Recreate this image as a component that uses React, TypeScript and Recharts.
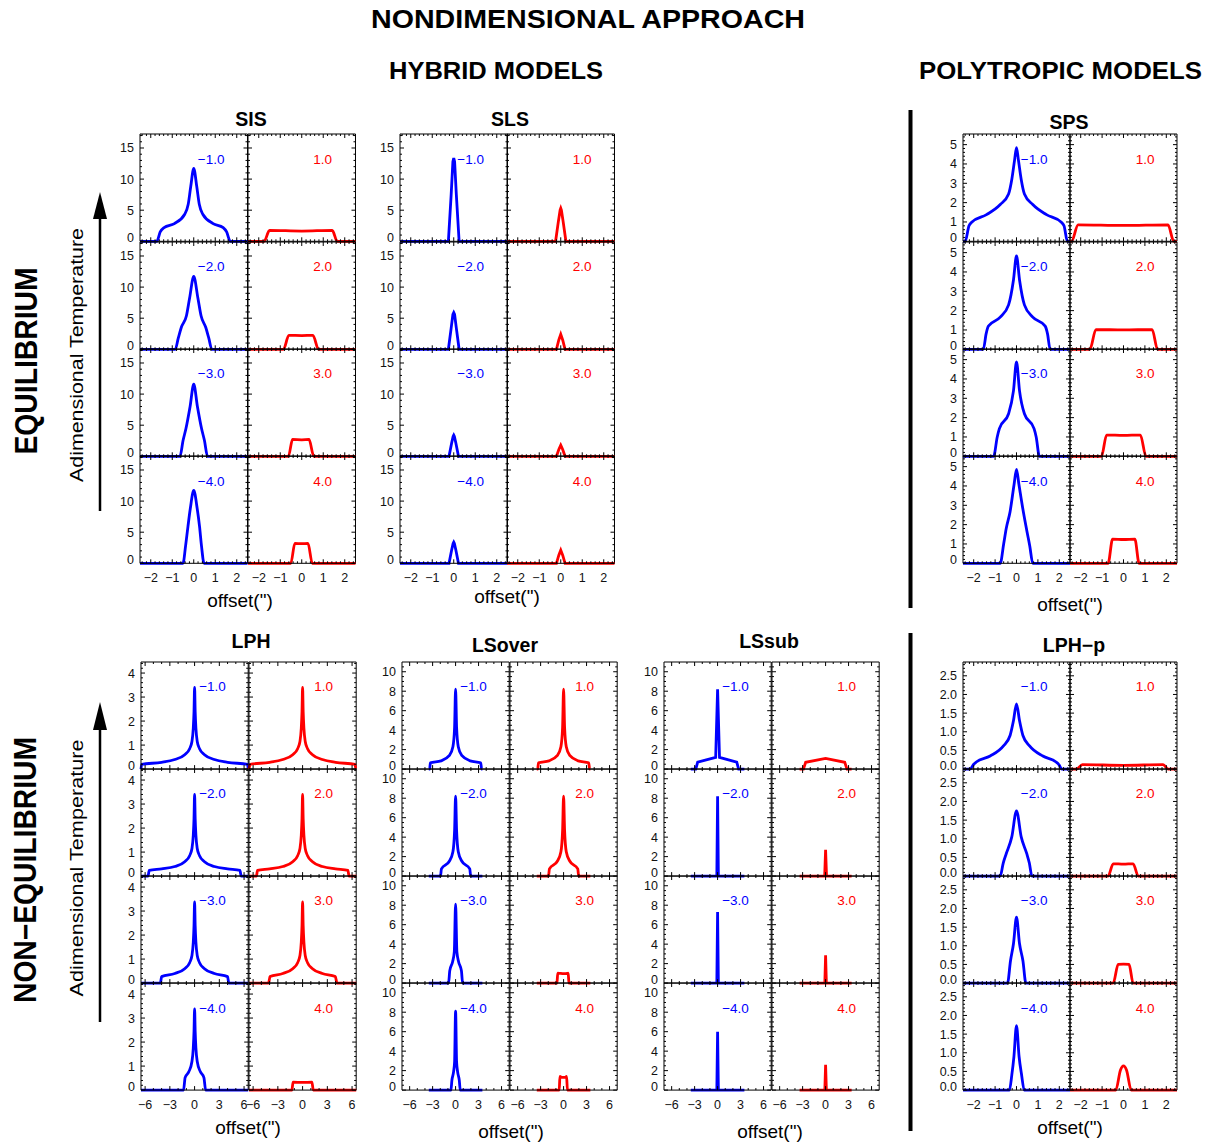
import React from 'react';
import { LineChart, Line, XAxis, YAxis, ReferenceLine } from 'recharts';

type Pt = [number, number];

// ---------------- tick labels / axes ----------------
const X25_MAJOR = [-2, -1, 0, 1, 2];
const X25_MINOR = [-2.4, -2.2, -1.8, -1.6, -1.4, -1.2, -0.8, -0.6, -0.4, -0.2, 0.2, 0.4, 0.6, 0.8, 1.2, 1.4, 1.6, 1.8, 2.2, 2.4];
const X6_MAJOR = [-6, -3, 0, 3, 6];
const X6_MINOR = [-5, -4, -2, -1, 1, 2, 4, 5];

const Y_SIS_MAJOR = [0, 5, 10, 15];
const Y_SIS_MINOR = [1, 2, 3, 4, 6, 7, 8, 9, 11, 12, 13, 14, 16, 17];
const Y_SPS_MAJOR = [0, 1, 2, 3, 4, 5];
const Y_SPS_MINOR = [0.2, 0.4, 0.6, 0.8, 1.2, 1.4, 1.6, 1.8, 2.2, 2.4, 2.6, 2.8, 3.2, 3.4, 3.6, 3.8, 4.2, 4.4, 4.6, 4.8, 5.2, 5.4];
const Y_LPH_MAJOR = [0, 1, 2, 3, 4];
const Y_LPH_MINOR = [0.2, 0.4, 0.6, 0.8, 1.2, 1.4, 1.6, 1.8, 2.2, 2.4, 2.6, 2.8, 3.2, 3.4, 3.6, 3.8, 4.2, 4.4];
const Y_LS_MAJOR = [0, 2, 4, 6, 8, 10];
const Y_LS_MINOR = [0.5, 1, 1.5, 2.5, 3, 3.5, 4.5, 5, 5.5, 6.5, 7, 7.5, 8.5, 9, 9.5, 10.5];
const Y_LPHP_MAJOR = [0, 0.5, 1, 1.5, 2, 2.5];
const Y_LPHP_MINOR = [0.1, 0.2, 0.3, 0.4, 0.6, 0.7, 0.8, 0.9, 1.1, 1.2, 1.3, 1.4, 1.6, 1.7, 1.8, 1.9, 2.1, 2.2, 2.3, 2.4, 2.6, 2.7, 2.8];

const BLUE_LABELS = ['\u22121.0', '\u22122.0', '\u22123.0', '\u22124.0'];
const RED_LABELS = ['1.0', '2.0', '3.0', '4.0'];

// ---------------- data (offset, temperature) ----------------
const sisBlue: Pt[][] = [
  [[-2.5, 0], [-1.72, 0], [-1.56, 1.5], [-1.38, 2.2], [-0.9, 2.85], [-0.42, 4.35], [-0.26, 5.9], [-0.14, 8.8], [0, 11.7], [0.14, 8.8], [0.26, 5.9], [0.42, 4.35], [0.9, 2.85], [1.37, 2.2], [1.53, 1.5], [1.7, 0], [2.5, 0]],
  [[-2.5, 0], [-0.86, 0], [-0.72, 1.8], [-0.58, 3.5], [-0.34, 5.4], [-0.19, 8.3], [0, 11.7], [0.19, 8.3], [0.34, 5.4], [0.56, 3.5], [0.7, 1.8], [0.84, 0], [2.5, 0]],
  [[-2.5, 0], [-0.64, 0], [-0.5, 2.5], [-0.36, 4.5], [-0.17, 8], [0, 11.6], [0.17, 8], [0.36, 4.5], [0.5, 2.5], [0.64, 0], [2.5, 0]],
  [[-2.5, 0], [-0.5, 0], [-0.38, 2.8], [-0.27, 5.9], [-0.16, 8.8], [0, 11.7], [0.16, 8.8], [0.27, 5.9], [0.36, 2.8], [0.48, 0], [2.5, 0]],
];
const sisRed: Pt[][] = [
  [[-2.5, 0], [-1.75, 0], [-1.5, 1.75], [0, 1.65], [1.42, 1.75], [1.65, 0], [2.5, 0]],
  [[-2.5, 0], [-0.85, 0], [-0.6, 2.25], [0, 2.2], [0.52, 2.25], [0.78, 0], [2.5, 0]],
  [[-2.5, 0], [-0.62, 0], [-0.43, 2.7], [0, 2.65], [0.34, 2.7], [0.56, 0], [2.5, 0]],
  [[-2.5, 0], [-0.51, 0], [-0.32, 3.2], [0, 3.15], [0.29, 3.2], [0.49, 0], [2.5, 0]],
];
const slsBlue: Pt[][] = [
  [[-2.5, 0], [-0.25, 0], [-0.12, 7.5], [-0.04, 12.8], [0, 13.4], [0.04, 12.8], [0.12, 7.5], [0.25, 0], [2.5, 0]],
  [[-2.5, 0], [-0.25, 0], [-0.12, 3.4], [-0.04, 5.6], [0, 5.9], [0.04, 5.6], [0.12, 3.4], [0.25, 0], [2.5, 0]],
  [[-2.5, 0], [-0.22, 0], [-0.1, 2.1], [-0.03, 3.2], [0, 3.4], [0.03, 3.2], [0.1, 2.1], [0.22, 0], [2.5, 0]],
  [[-2.5, 0], [-0.22, 0], [-0.1, 2.1], [-0.03, 3.2], [0, 3.4], [0.03, 3.2], [0.1, 2.1], [0.22, 0], [2.5, 0]],
];
const slsRed: Pt[][] = [
  [[-2.5, 0], [-0.24, 0], [-0.11, 3.2], [-0.03, 5.0], [0, 5.3], [0.03, 5.0], [0.11, 3.2], [0.24, 0], [2.5, 0]],
  [[-2.5, 0], [-0.2, 0], [-0.09, 1.5], [0, 2.4], [0.09, 1.5], [0.2, 0], [2.5, 0]],
  [[-2.5, 0], [-0.2, 0], [-0.09, 1.1], [0, 1.8], [0.09, 1.1], [0.2, 0], [2.5, 0]],
  [[-2.5, 0], [-0.2, 0], [-0.09, 1.3], [0, 2.1], [0.09, 1.3], [0.2, 0], [2.5, 0]],
];
const spsBlue: Pt[][] = [
  [[-2.5, 0], [-2.4, 0], [-2.22, 0.8], [-2.08, 1.0], [-1.4, 1.38], [-0.76, 1.9], [-0.37, 2.45], [-0.22, 3.2], [-0.09, 4.2], [0, 4.85], [0.09, 4.2], [0.22, 3.2], [0.37, 2.45], [0.76, 1.9], [1.4, 1.38], [2.08, 1.0], [2.22, 0.8], [2.38, 0], [2.5, 0]],
  [[-2.5, 0], [-1.55, 0], [-1.42, 0.8], [-1.31, 1.2], [-0.76, 1.66], [-0.37, 2.3], [-0.14, 3.6], [0, 4.83], [0.14, 3.6], [0.37, 2.3], [0.76, 1.66], [1.34, 1.2], [1.45, 0.8], [1.57, 0], [2.5, 0]],
  [[-2.5, 0], [-1.07, 0], [-0.9, 1.0], [-0.8, 1.43], [-0.37, 2.2], [-0.14, 3.4], [0, 4.88], [0.14, 3.4], [0.37, 2.2], [0.82, 1.43], [0.92, 1.0], [1.07, 0], [2.5, 0]],
  [[-2.5, 0], [-0.76, 0], [-0.6, 1.0], [-0.48, 1.8], [-0.3, 2.67], [-0.11, 4.1], [0, 4.86], [0.11, 4.1], [0.33, 2.6], [0.48, 1.7], [0.62, 0.9], [0.76, 0], [2.5, 0]],
];
const spsRed: Pt[][] = [
  [[-2.5, 0], [-2.43, 0], [-2.12, 0.85], [0, 0.82], [2.08, 0.85], [2.35, 0], [2.5, 0]],
  [[-2.5, 0], [-1.57, 0], [-1.29, 1.02], [0, 1.0], [1.34, 1.02], [1.59, 0], [2.5, 0]],
  [[-2.5, 0], [-1.03, 0], [-0.79, 1.1], [0, 1.08], [0.79, 1.1], [1.05, 0], [2.5, 0]],
  [[-2.5, 0], [-0.72, 0], [-0.51, 1.25], [0, 1.23], [0.53, 1.25], [0.73, 0], [2.5, 0]],
];
const lphBlue: Pt[][] = [
  [[-6.5, 0], [-6.42, 0.2], [-4, 0.28], [-2.4, 0.4], [-1.2, 0.6], [-0.6, 0.85], [-0.32, 1.15], [-0.16, 1.7], [-0.07, 2.4], [0, 3.4], [0.07, 2.4], [0.16, 1.7], [0.32, 1.15], [0.6, 0.85], [1.2, 0.6], [2.4, 0.4], [4, 0.28], [6.42, 0.2], [6.5, 0]],
  [[-6.5, 0], [-5.65, 0], [-5.5, 0.24], [-4, 0.3], [-2.4, 0.4], [-1.2, 0.6], [-0.6, 0.85], [-0.32, 1.15], [-0.16, 1.7], [-0.07, 2.4], [0, 3.4], [0.07, 2.4], [0.16, 1.7], [0.32, 1.15], [0.6, 0.85], [1.2, 0.6], [2.4, 0.4], [4, 0.3], [5.5, 0.24], [5.65, 0], [6.5, 0]],
  [[-6.5, 0], [-4.15, 0], [-4.0, 0.27], [-2.4, 0.4], [-1.2, 0.6], [-0.6, 0.85], [-0.32, 1.15], [-0.16, 1.7], [-0.07, 2.4], [0, 3.38], [0.07, 2.4], [0.16, 1.7], [0.32, 1.15], [0.6, 0.85], [1.2, 0.6], [2.4, 0.4], [4.0, 0.27], [4.15, 0], [6.5, 0]],
  [[-6.5, 0], [-1.34, 0], [-1.15, 0.52], [-0.69, 0.77], [-0.32, 1.19], [-0.16, 1.75], [-0.07, 2.45], [0, 3.38], [0.07, 2.45], [0.16, 1.75], [0.32, 1.19], [0.69, 0.77], [1.13, 0.52], [1.34, 0], [6.5, 0]],
];
const lphRed: Pt[][] = [
  [[-6.5, 0], [-6.36, 0.2], [-4, 0.28], [-2.4, 0.4], [-1.2, 0.6], [-0.6, 0.85], [-0.32, 1.15], [-0.16, 1.7], [-0.07, 2.4], [0, 3.4], [0.07, 2.4], [0.16, 1.7], [0.32, 1.15], [0.6, 0.85], [1.2, 0.6], [2.4, 0.4], [4, 0.28], [6.36, 0.2], [6.46, 0], [6.5, 0]],
  [[-6.5, 0], [-5.6, 0], [-5.47, 0.24], [-4, 0.3], [-2.4, 0.4], [-1.2, 0.6], [-0.6, 0.85], [-0.32, 1.15], [-0.16, 1.7], [-0.07, 2.4], [0, 3.4], [0.07, 2.4], [0.16, 1.7], [0.32, 1.15], [0.6, 0.85], [1.2, 0.6], [2.4, 0.4], [4, 0.3], [5.5, 0.24], [5.63, 0], [6.5, 0]],
  [[-6.5, 0], [-4.13, 0], [-3.95, 0.27], [-2.4, 0.4], [-1.2, 0.6], [-0.6, 0.85], [-0.32, 1.15], [-0.16, 1.7], [-0.07, 2.4], [0, 3.38], [0.07, 2.4], [0.16, 1.7], [0.32, 1.15], [0.6, 0.85], [1.2, 0.6], [2.4, 0.4], [3.97, 0.27], [4.17, 0], [6.5, 0]],
  [[-6.5, 0], [-1.3, 0], [-1.15, 0.33], [0, 0.32], [1.13, 0.33], [1.3, 0], [6.5, 0]],
];
const lsoverBlue: Pt[][] = [
  [[-3.5, 0], [-3.38, 0], [-3.3, 0.65], [-1.9, 0.85], [-0.8, 1.4], [-0.35, 2.3], [-0.13, 4.3], [0, 8.2], [0.13, 4.3], [0.35, 2.3], [0.8, 1.4], [1.9, 0.85], [3.28, 0.65], [3.4, 0], [3.5, 0]],
  [[-3.5, 0], [-1.97, 0], [-1.85, 0.75], [-0.8, 1.55], [-0.35, 2.5], [-0.13, 4.7], [0, 8.2], [0.13, 4.7], [0.35, 2.5], [0.8, 1.55], [1.85, 0.75], [1.97, 0], [3.5, 0]],
  [[-3.5, 0], [-0.92, 0], [-0.76, 1.28], [-0.39, 2.2], [-0.17, 3.2], [0, 8.1], [0.17, 3.2], [0.39, 2.2], [0.76, 1.28], [0.92, 0], [3.5, 0]],
  [[-3.5, 0], [-0.61, 0], [-0.48, 1.03], [-0.26, 1.9], [-0.13, 2.9], [0, 8.1], [0.13, 2.9], [0.26, 1.9], [0.48, 1.03], [0.61, 0], [3.5, 0]],
];
const lsoverRed: Pt[][] = [
  [[-3.5, 0], [-3.38, 0], [-3.28, 0.65], [-1.9, 0.85], [-0.8, 1.4], [-0.35, 2.3], [-0.13, 4.3], [0, 8.2], [0.13, 4.3], [0.35, 2.3], [0.8, 1.4], [1.9, 0.85], [3.28, 0.65], [3.4, 0], [3.5, 0]],
  [[-3.5, 0], [-1.97, 0], [-1.85, 0.75], [-0.8, 1.55], [-0.35, 2.5], [-0.13, 4.7], [0, 8.2], [0.13, 4.7], [0.35, 2.5], [0.8, 1.55], [1.85, 0.75], [1.97, 0], [3.5, 0]],
  [[-3.5, 0], [-0.87, 0], [-0.76, 1.02], [-0.5, 1.0], [0, 0.97], [0.5, 1.0], [0.6, 1.02], [0.7, 0], [3.5, 0]],
  [[-3.5, 0], [-0.57, 0], [-0.48, 1.4], [-0.25, 1.3], [0.2, 1.3], [0.39, 1.4], [0.5, 0], [3.5, 0]],
];
const lssubBlue: Pt[][] = [
  [[-3.5, 0], [-2.85, 0], [-2.6, 0.72], [-0.25, 1.2], [0, 8.2], [0.25, 1.2], [2.5, 0.72], [2.75, 0], [3.5, 0]],
  [[-3.5, 0], [-0.1, 0], [0, 8.2], [0.1, 0], [3.5, 0]],
  [[-3.5, 0], [-0.1, 0], [0, 7.3], [0.1, 0], [3.5, 0]],
  [[-3.5, 0], [-0.1, 0], [0, 6.0], [0.1, 0], [3.5, 0]],
];
const lssubRed: Pt[][] = [
  [[-3.4, 0], [-2.9, 0], [-2.6, 0.7], [0, 1.1], [2.5, 0.7], [2.8, 0], [3.4, 0]],
  [[-3.4, 0], [-0.12, 0], [0, 2.7], [0.12, 0], [3.4, 0]],
  [[-3.4, 0], [-0.1, 0], [0, 2.85], [0.1, 0], [3.4, 0]],
  [[-3.4, 0], [-0.1, 0], [0, 2.6], [0.1, 0], [3.4, 0]],
];
const lphpBlue: Pt[][] = [
  [[-2.5, 0], [-2.17, 0], [-2.0, 0.13], [-1.88, 0.19], [-1.23, 0.35], [-0.61, 0.62], [-0.3, 0.9], [-0.14, 1.3], [0, 1.75], [0.14, 1.3], [0.3, 0.9], [0.61, 0.62], [1.23, 0.35], [1.85, 0.19], [1.98, 0.12], [2.12, 0], [2.5, 0]],
  [[-2.5, 0], [-0.76, 0], [-0.62, 0.35], [-0.48, 0.6], [-0.22, 1.05], [0, 1.75], [0.22, 1.05], [0.48, 0.6], [0.6, 0.35], [0.72, 0], [2.5, 0]],
  [[-2.5, 0], [-0.42, 0], [-0.28, 0.6], [-0.14, 1.06], [0, 1.77], [0.14, 1.06], [0.3, 0.6], [0.44, 0], [2.5, 0]],
  [[-2.5, 0], [-0.33, 0], [-0.22, 0.4], [-0.12, 0.9], [0, 1.73], [0.12, 0.9], [0.24, 0.4], [0.36, 0], [2.5, 0]],
];
const lphpRed: Pt[][] = [
  [[-2.5, 0], [-2.2, 0], [-1.92, 0.12], [0, 0.1], [1.85, 0.12], [2.09, 0], [2.5, 0]],
  [[-2.5, 0], [-0.72, 0], [-0.48, 0.33], [0, 0.32], [0.45, 0.33], [0.69, 0], [2.5, 0]],
  [[-2.5, 0], [-0.48, 0], [-0.25, 0.5], [0, 0.51], [0.26, 0.5], [0.45, 0], [2.5, 0]],
  [[-2.5, 0], [-0.36, 0], [-0.14, 0.54], [0, 0.65], [0.14, 0.54], [0.36, 0], [2.5, 0]],
];

// ---------------- styling / layout ----------------
const FONT = "'Liberation Sans', Arial, Helvetica, sans-serif";
const BLUE = '#0000ff';
const RED = '#ff0000';
const LW = 40, TH = 6, RW = 6, BH = 30;
const TICK_FS = 12.5;

const fmtX = (v: number) => (v < 0 ? '\u2212' + Math.abs(v) : String(v));
const fmtInt = (v: number) => String(v);
const fmt1 = (v: number) => v.toFixed(1);

const AX25 = { domain: [-2.5, 2.5], major: X25_MAJOR, minor: X25_MINOR };
const AX65 = { domain: [-6.5, 6.5], major: X6_MAJOR, minor: X6_MINOR };
const AX7 = { domain: [-7, 7], major: X6_MAJOR, minor: X6_MINOR };
const AY_SIS = { domain: [0, 17.25], major: Y_SIS_MAJOR, minor: Y_SIS_MINOR, fmt: fmtInt };
const AY_SPS = { domain: [0, 5.55], major: Y_SPS_MAJOR, minor: Y_SPS_MINOR, fmt: fmtInt };
const AY_LPH = { domain: [0, 4.46], major: Y_LPH_MAJOR, minor: Y_LPH_MINOR, fmt: fmtInt };
const AY_LS = { domain: [0, 11], major: Y_LS_MAJOR, minor: Y_LS_MINOR, fmt: fmtInt };
const AY_LPHP = { domain: [0, 2.87], major: Y_LPHP_MAJOR, minor: Y_LPHP_MINOR, fmt: fmt1 };

const BLOCKS = [
  { title: 'SIS', x0: 140, y0: 134.3, pw: 107.5, ph: 107.3, blue: sisBlue, red: sisRed, ax: AX25, ay: AY_SIS, curve: 'monotone', tx: 251, ty: 125.5, ox: 240, oy: 607 },
  { title: 'SLS', x0: 399.5, y0: 134.3, pw: 107.5, ph: 107.3, blue: slsBlue, red: slsRed, ax: AX25, ay: AY_SIS, curve: 'linear', tx: 510, ty: 125.5, ox: 507, oy: 603 },
  { title: 'SPS', x0: 963, y0: 134.3, pw: 107, ph: 107.3, blue: spsBlue, red: spsRed, ax: AX25, ay: AY_SPS, curve: 'monotone', tx: 1069, ty: 129, ox: 1070, oy: 611 },
  { title: 'LPH', x0: 141.3, y0: 661.7, pw: 107.2, ph: 107.1, blue: lphBlue, red: lphRed, ax: AX65, ay: AY_LPH, curve: 'monotone', tx: 251, ty: 648, ox: 248, oy: 1134 },
  { title: 'LSover', x0: 402.3, y0: 661.7, pw: 107.2, ph: 107.1, blue: lsoverBlue, red: lsoverRed, ax: AX7, ay: AY_LS, curve: 'monotone', tx: 505, ty: 652, ox: 511, oy: 1138 },
  { title: 'LSsub', x0: 664.3, y0: 661.7, pw: 107.2, ph: 107.1, blue: lssubBlue, red: lssubRed, ax: AX7, ay: AY_LS, curve: 'linear', tx: 769, ty: 648, ox: 770, oy: 1138 },
  { title: 'LPH\u2212p', x0: 963, y0: 661.7, pw: 107, ph: 107.1, blue: lphpBlue, red: lphpRed, ax: AX25, ay: AY_LPHP, curve: 'monotone', tx: 1074, ty: 652, ox: 1070, oy: 1134 },
];

function Panel({ left, top, w, h, pts, color, ax, ay, showX, showY, curve }: any) {
  const data = pts.map((p: Pt) => ({ x: p[0], y: p[1] }));
  const xl = LW, xr = LW + w, yt = TH, yb = TH + h;
  const xTick = (p: any) => {
    const v = p.payload.value;
    const major = ax.major.includes(v);
    const X = p.x;
    const len = major ? 4 : 2;
    return (
      <g>
        <line x1={X} x2={X} y1={yb} y2={yb - len} stroke="#000" strokeWidth={1} />
        <line x1={X} x2={X} y1={yt} y2={yt + len} stroke="#000" strokeWidth={1} />
        {showX && major ? (
          <text x={X} y={yb + 18.5} textAnchor="middle" fontSize={TICK_FS} fontFamily={FONT} fill="#111">{fmtX(v)}</text>
        ) : null}
      </g>
    );
  };
  const yTick = (p: any) => {
    const v = p.payload.value;
    const major = ay.major.includes(v);
    const Y = p.y;
    const len = major ? 4 : 2;
    const shift = v === ay.domain[0] ? -3.5 : 0;
    return (
      <g>
        <line x1={xl} x2={xl + len} y1={Y} y2={Y} stroke="#000" strokeWidth={1} />
        <line x1={xr} x2={xr - len} y1={Y} y2={Y} stroke="#000" strokeWidth={1} />
        {showY && major ? (
          <text x={xl - 6} y={Y + 4.5 + shift} textAnchor="end" fontSize={TICK_FS} fontFamily={FONT} fill="#111">{ay.fmt(v)}</text>
        ) : null}
      </g>
    );
  };
  return (
    <div style={{ position: 'absolute', left: left - LW, top: top - TH }}>
      <LineChart width={LW + w + RW} height={TH + h + BH} data={data} margin={{ top: TH, right: RW, bottom: 0, left: 0 }}>
        <XAxis dataKey="x" type="number" domain={ax.domain} ticks={[...ax.major, ...ax.minor]} interval={0} height={BH}
          tickLine={false} stroke="#000" axisLine={{ stroke: '#000' }} tick={xTick} />
        <YAxis type="number" domain={ay.domain} ticks={[...ay.major, ...ay.minor]} interval={0} width={LW}
          tickLine={false} stroke="#000" axisLine={{ stroke: '#000' }} tick={yTick} />
        <ReferenceLine x={ax.domain[1]} stroke="#000" strokeWidth={1} ifOverflow="visible" />
        <ReferenceLine y={ay.domain[1]} stroke="#000" strokeWidth={1} ifOverflow="visible" />
        <Line dataKey="y" type={curve} stroke={color} strokeWidth={2.8} dot={false} isAnimationActive={false} />
      </LineChart>
    </div>
  );
}

function Block({ b }: any) {
  const panels: any[] = [];
  for (let r = 0; r < 4; r++) {
    for (let c = 0; c < 2; c++) {
      panels.push(
        <Panel key={r + '-' + c}
          left={b.x0 + c * b.pw} top={b.y0 + r * b.ph} w={b.pw} h={b.ph}
          pts={c === 0 ? b.blue[r] : b.red[r]} color={c === 0 ? BLUE : RED}
          ax={b.ax} ay={b.ay} showX={r === 3} showY={c === 0} curve={b.curve} />
      );
    }
  }
  return <>{panels}</>;
}

function Overlay() {
  const items: any[] = [];
  BLOCKS.forEach((b, bi) => {
    items.push(<text key={'t' + bi} x={b.tx} y={b.ty} textAnchor="middle" fontSize={19.5} fontWeight="bold" fontFamily={FONT}>{b.title}</text>);
    items.push(<text key={'o' + bi} x={b.ox} y={b.oy} textAnchor="middle" fontSize={19} fontFamily={FONT}>offset(")</text>);
    for (let r = 0; r < 4; r++) {
      const top = b.y0 + r * b.ph;
      items.push(<text key={'lb' + bi + r} x={b.x0 + 84.5} y={top + 29.5} textAnchor="end" fontSize={13.5} fontFamily={FONT} fill={BLUE}>{BLUE_LABELS[r]}</text>);
      items.push(<text key={'lr' + bi + r} x={b.x0 + b.pw + 84.5} y={top + 29.5} textAnchor="end" fontSize={13.5} fontFamily={FONT} fill={RED}>{RED_LABELS[r]}</text>);
    }
  });
  return (
    <svg width={1224} height={1147} style={{ position: 'absolute', left: 0, top: 0, pointerEvents: 'none' }}>
      <text x={588} y={28} textAnchor="middle" fontSize={26} fontWeight="bold" fontFamily={FONT} textLength={434} lengthAdjust="spacingAndGlyphs">NONDIMENSIONAL APPROACH</text>
      <text x={496} y={79} textAnchor="middle" fontSize={24} fontWeight="bold" fontFamily={FONT} textLength={214} lengthAdjust="spacingAndGlyphs">HYBRID MODELS</text>
      <text x={1060.5} y={79} textAnchor="middle" fontSize={24} fontWeight="bold" fontFamily={FONT} textLength={283} lengthAdjust="spacingAndGlyphs">POLYTROPIC MODELS</text>

      <text x={37} y={361} transform="rotate(-90 37 361)" textAnchor="middle" fontSize={31} fontWeight="bold" fontFamily={FONT} textLength={187} lengthAdjust="spacingAndGlyphs">EQUILIBRIUM</text>
      <text x={36} y={870} transform="rotate(-90 36 870)" textAnchor="middle" fontSize={31} fontWeight="bold" fontFamily={FONT} textLength={266} lengthAdjust="spacingAndGlyphs">NON{'\u2212'}EQUILIBRIUM</text>

      <text x={82.5} y={355} transform="rotate(-90 82.5 355)" textAnchor="middle" fontSize={19} fontFamily={FONT} textLength={254} lengthAdjust="spacingAndGlyphs">Adimensional Temperature</text>
      <text x={82.5} y={868} transform="rotate(-90 82.5 868)" textAnchor="middle" fontSize={19} fontFamily={FONT} textLength={257} lengthAdjust="spacingAndGlyphs">Adimensional Temperature</text>

      <line x1={100} y1={511} x2={100} y2={215} stroke="#000" strokeWidth={2.5} />
      <polygon points="100,192 93,219 107,219" fill="#000" />
      <line x1={100} y1={1022} x2={100} y2={726} stroke="#000" strokeWidth={2.5} />
      <polygon points="100,702 93,730 107,730" fill="#000" />

      <rect x={908.5} y={110} width={4} height={498} fill="#000" />
      <rect x={908.5} y={633} width={4} height={498} fill="#000" />
      {items}
    </svg>
  );
}

export default function App() {
  return (
    <div style={{ position: 'absolute', left: 0, top: 0, width: 1224, height: 1147, background: '#fff', fontFamily: FONT }}>
      {BLOCKS.map((b, i) => <Block key={i} b={b} />)}
      <Overlay />
    </div>
  );
}
